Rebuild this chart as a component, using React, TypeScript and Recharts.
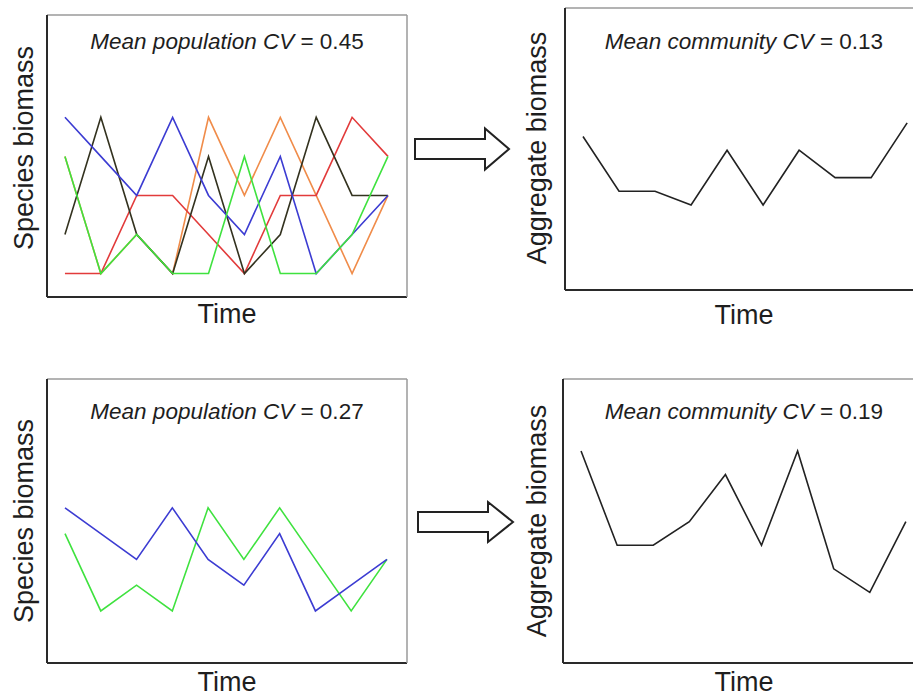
import React from 'react';
import { LineChart, Line, XAxis, YAxis, Label } from 'recharts';

// ---- data ----
const timeSteps = [1, 2, 3, 4, 5, 6, 7, 8, 9, 10];

const topBlue = [5, 4, 3, 5, 3, 2, 4, 1, 2, 3];
const topBlack = [2, 5, 2, 1, 4, 1, 2, 5, 3, 3];
const topGreen = [4, 1, 2, 1, 1, 4, 1, 1, 2, 4];
const topRed = [1, 1, 3, 3, 2, 1, 3, 3, 5, 4];
const topOrange = [4, 1, 2, 1, 5, 3, 5, 3, 1, 3];
const topAggregate = [16, 12, 12, 11, 15, 11, 15, 13, 13, 17];

const bottomBlue = [5, 4, 3, 5, 3, 2, 4, 1, 2, 3];
const bottomGreen = [4, 1, 2, 1, 5, 3, 5, 3, 1, 3];
const bottomAggregate = [9, 5, 5, 6, 8, 5, 9, 4, 3, 6];

const titleTopLeft = ['Mean population CV', ' = 0.45'];
const titleTopRight = ['Mean community CV', ' = 0.13'];
const titleBottomLeft = ['Mean population CV', ' = 0.27'];
const titleBottomRight = ['Mean community CV', ' = 0.19'];
const speciesLabel = 'Species biomass';
const aggregateLabel = 'Aggregate biomass';
const timeLabel = 'Time';

// ---- table built for the library ----
const topRows = timeSteps.map((t, i) => ({
  t,
  blue: topBlue[i],
  black: topBlack[i],
  green: topGreen[i],
  red: topRed[i],
  orange: topOrange[i],
}));
const topAggRows = timeSteps.map((t, i) => ({ t, agg: topAggregate[i] }));
const bottomRows = timeSteps.map((t, i) => ({ t, blue: bottomBlue[i], green: bottomGreen[i] }));
const bottomAggRows = timeSteps.map((t, i) => ({ t, agg: bottomAggregate[i] }));

const FONT = '"Liberation Sans", Arial, Helvetica, sans-serif';
const TEXT = '#1e1e1e';

type SeriesDef = { key: string; color: string };

type PanelProps = {
  left: number;
  top: number;
  width: number;
  height: number;
  margin: { top: number; right: number; bottom: number; left: number };
  xDomain: [number, number];
  yDomain: [number, number];
  rows: any[];
  series: SeriesDef[];
  title: string[];
  titleDy: number;
  yLabel: string;
  yLabelDx: number;
  yLabelCy: number;
  timeDy: number;
};

function Panel(p: PanelProps) {
  // frame (plot area) in chart coordinates
  const fx = p.margin.left;
  const fy = p.margin.top;
  const fw = p.width - p.margin.left - p.margin.right;
  const fh = p.height - p.margin.top - p.margin.bottom;
  const m = { top: fy - 1, right: p.margin.right - 1, bottom: p.margin.bottom - 1, left: fx - 1 };

  const titleContent = () => (
    <text x={fx + fw / 2} y={fy + p.titleDy} textAnchor="middle" fontSize={22.5} fontFamily={FONT} fill={TEXT}>
      <tspan fontStyle="italic">{p.title[0]}</tspan>
      <tspan>{p.title[1]}</tspan>
    </text>
  );
  const timeContent = () => (
    <text x={fx + fw / 2} y={fy + fh + p.timeDy} textAnchor="middle" fontSize={27} fontFamily={FONT} fill={TEXT}>
      {timeLabel}
    </text>
  );
  const yContent = () => {
    const x = fx - p.yLabelDx;
    const y = fy + p.yLabelCy;
    return (
      <text
        x={x}
        y={y}
        textAnchor="middle"
        fontSize={27}
        fontFamily={FONT}
        fill={TEXT}
        transform={`rotate(-90, ${x}, ${y})`}
      >
        {p.yLabel}
      </text>
    );
  };

  return (
    <div style={{ position: 'absolute', left: p.left, top: p.top }}>
      <LineChart width={p.width} height={p.height} data={p.rows} margin={m}>
        <XAxis
          dataKey="t"
          type="number"
          domain={p.xDomain}
          allowDataOverflow
          height={1}
          tick={false}
          tickLine={false}
          axisLine={{ stroke: '#2a2a2a', strokeWidth: 2 }}
          label={<Label content={timeContent} />}
        />
        <XAxis
          xAxisId="top"
          dataKey="t"
          type="number"
          orientation="top"
          domain={p.xDomain}
          allowDataOverflow
          height={1}
          tick={false}
          tickLine={false}
          axisLine={{ stroke: '#9a9a9a', strokeWidth: 1.5 }}
          label={<Label content={titleContent} />}
        />
        <YAxis
          type="number"
          domain={p.yDomain}
          allowDataOverflow
          width={1}
          tick={false}
          tickLine={false}
          axisLine={{ stroke: '#2a2a2a', strokeWidth: 2 }}
          label={<Label content={yContent} />}
        />
        <YAxis
          yAxisId="right"
          orientation="right"
          type="number"
          domain={p.yDomain}
          allowDataOverflow
          width={1}
          tick={false}
          tickLine={false}
          axisLine={{ stroke: '#9a9a9a', strokeWidth: 1.5 }}
        />
        {p.series.map((s) => (
          <Line
            key={s.key}
            type="linear"
            dataKey={s.key}
            stroke={s.color}
            strokeWidth={1.6}
            dot={false}
            activeDot={false}
            isAnimationActive={false}
          />
        ))}
      </LineChart>
    </div>
  );
}

function Arrow({ x0, x1, x2, cy, shaft, head }: { x0: number; x1: number; x2: number; cy: number; shaft: number; head: number }) {
  const pts = [
    [x0, cy - shaft],
    [x1, cy - shaft],
    [x1, cy - head],
    [x2, cy],
    [x1, cy + head],
    [x1, cy + shaft],
    [x0, cy + shaft],
  ]
    .map((q) => q.join(','))
    .join(' ');
  return <polygon points={pts} fill="#ffffff" stroke="#222" strokeWidth={2} strokeLinejoin="miter" />;
}

const speciesTopSeries: SeriesDef[] = [
  { key: 'orange', color: '#f08c4a' },
  { key: 'red', color: '#e23b3b' },
  { key: 'black', color: '#33321f' },
  { key: 'blue', color: '#3c3cd2' },
  { key: 'green', color: '#3fe23f' },
];
const speciesBottomSeries: SeriesDef[] = [
  { key: 'green', color: '#3fe23f' },
  { key: 'blue', color: '#3c3cd2' },
];
const aggSeries: SeriesDef[] = [{ key: 'agg', color: '#222222' }];

export default function App() {
  return (
    <div
      style={{
        position: 'absolute',
        left: 0,
        top: 0,
        width: 913,
        height: 696,
        overflow: 'hidden',
        background: '#ffffff',
      }}
    >
      <Panel
        left={0}
        top={0}
        width={460}
        height={345}
        margin={{ top: 15, right: 53, bottom: 48, left: 47 }}
        xDomain={[0.5, 10.53]}
        yDomain={[0.4, 7.62]}
        rows={topRows}
        series={speciesTopSeries}
        title={titleTopLeft}
        titleDy={34}
        yLabel={speciesLabel}
        yLabelDx={14}
        yLabelCy={133}
        timeDy={26}
      />
      <Panel
        left={460}
        top={0}
        width={470}
        height={345}
        margin={{ top: 8, right: 7, bottom: 55, left: 105 }}
        xDomain={[0.5, 10.44]}
        yDomain={[4.78, 25.4]}
        rows={topAggRows}
        series={aggSeries}
        title={titleTopRight}
        titleDy={41}
        yLabel={aggregateLabel}
        yLabelDx={19}
        yLabelCy={140}
        timeDy={34}
      />
      <Panel
        left={0}
        top={345}
        width={460}
        height={351}
        margin={{ top: 34, right: 53, bottom: 33, left: 47 }}
        xDomain={[0.497, 10.56]}
        yDomain={[-1.02, 10.0]}
        rows={bottomRows}
        series={speciesBottomSeries}
        title={titleBottomLeft}
        titleDy={40}
        yLabel={speciesLabel}
        yLabelDx={14}
        yLabelCy={142}
        timeDy={28}
      />
      <Panel
        left={460}
        top={345}
        width={470}
        height={351}
        margin={{ top: 34, right: 5, bottom: 33, left: 103 }}
        xDomain={[0.5, 10.53]}
        yDomain={[0, 12.06]}
        rows={bottomAggRows}
        series={aggSeries}
        title={titleBottomRight}
        titleDy={40}
        yLabel={aggregateLabel}
        yLabelDx={17}
        yLabelCy={142}
        timeDy={28}
      />
      <svg
        width={130}
        height={696}
        style={{ position: 'absolute', left: 400, top: 0, overflow: 'visible' }}
      >
        <g transform="translate(-400,0)">
          <Arrow x0={415} x1={485} x2={509} cy={149} shaft={10} head={20.5} />
          <Arrow x0={418} x1={488} x2={513} cy={522} shaft={10} head={20} />
        </g>
      </svg>
    </div>
  );
}
